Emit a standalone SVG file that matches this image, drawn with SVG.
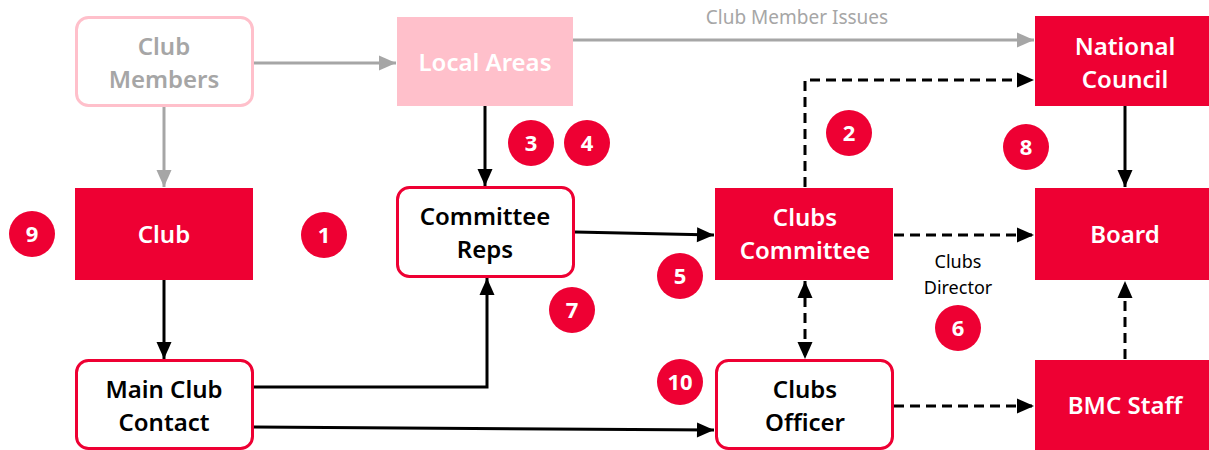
<svg xmlns="http://www.w3.org/2000/svg" width="1209" height="450" viewBox="0 0 1209 450">
<style>
.red{fill:#EE0033}
.pink{fill:#FFC0CB}
.ob{fill:#fff;stroke:#EE0033;stroke-width:3}
.op{fill:#fff;stroke:#FFC0CB;stroke-width:3}
.t{font-family:"Noto Sans","Open Sans",sans-serif;font-size:24px;font-weight:600;text-anchor:middle}
.w{fill:#fff}
.k{fill:#000}
.g{fill:#A6A6A6}
.lbl{font-family:"Noto Sans","Open Sans",sans-serif;font-size:17px;text-anchor:middle}
.num{font-family:"Noto Sans","Open Sans",sans-serif;font-size:22px;font-weight:700;fill:#fff;text-anchor:middle}
.cg{fill:none;stroke:#A6A6A6;stroke-width:3}
.ck{fill:none;stroke:#000;stroke-width:3}
.cd{fill:none;stroke:#000;stroke-width:3;stroke-dasharray:10 6}
</style>
<defs>
<marker id="ag" markerUnits="userSpaceOnUse" markerWidth="20" markerHeight="20" viewBox="0 0 20 20" refX="18" refY="10" orient="auto"><path d="M1,2.5 L18,10 L1,17.5 Z" fill="#A6A6A6"/></marker>
<marker id="ak" markerUnits="userSpaceOnUse" markerWidth="20" markerHeight="20" viewBox="0 0 20 20" refX="18" refY="10" orient="auto"><path d="M1,2.5 L18,10 L1,17.5 Z" fill="#000"/></marker>
<marker id="aks" markerUnits="userSpaceOnUse" markerWidth="20" markerHeight="20" viewBox="0 0 20 20" refX="18" refY="10" orient="auto-start-reverse"><path d="M1,2.5 L18,10 L1,17.5 Z" fill="#000"/></marker>
</defs>
<g id="connectors">
<line class="cg" x1="254" y1="63" x2="396" y2="63" marker-end="url(#ag)"/>
<line class="cg" x1="573" y1="40" x2="1034" y2="40" marker-end="url(#ag)"/>
<text class="lbl g" x="797" y="24" style="font-size:19px">Club Member Issues</text>
<line class="cg" x1="164" y1="107" x2="164" y2="187" marker-end="url(#ag)"/>
<line class="ck" x1="485" y1="106" x2="485" y2="186" marker-end="url(#ak)"/>
<line class="ck" x1="575" y1="232" x2="714" y2="235" marker-end="url(#ak)"/>
<path class="cd" d="M805,187 L805,80 L1034,80" marker-end="url(#ak)"/>
<line class="cd" x1="894" y1="235" x2="1034" y2="235" marker-end="url(#ak)"/>
<text class="lbl k" x="958" y="268" style="font-size:18px">Clubs</text>
<text class="lbl k" x="958" y="294" style="font-size:18px">Director</text>
<line class="ck" x1="1125" y1="106" x2="1125" y2="187" marker-end="url(#ak)"/>
<line class="cd" x1="1125" y1="359" x2="1125" y2="281" marker-end="url(#ak)"/>
<line class="cd" x1="805" y1="281" x2="805" y2="359" marker-start="url(#aks)" marker-end="url(#aks)"/>
<line class="cd" x1="894" y1="406" x2="1034" y2="406" marker-end="url(#ak)"/>
<line class="ck" x1="164" y1="280" x2="164" y2="359" marker-end="url(#ak)"/>
<path class="ck" d="M254,387 L487,387 L487,278" marker-end="url(#ak)"/>
<line class="ck" x1="254" y1="427" x2="714" y2="430" marker-end="url(#ak)"/>
</g>
<g id="club-members"><rect class="op" x="76.5" y="17.5" width="176" height="88" rx="12"/><text class="t g" x="164" y="55">Club</text><text class="t g" x="164" y="88">Members</text></g>
<g id="local-areas"><rect class="pink" x="397" y="17" width="176" height="89"/><text class="t w" x="485" y="71">Local Areas</text></g>
<g id="national-council"><rect class="red" x="1035" y="16" width="174" height="90"/><text class="t w" x="1125" y="55">National</text><text class="t w" x="1125" y="88">Council</text></g>
<g id="club"><rect class="red" x="75" y="188" width="178" height="92"/><text class="t w" x="164" y="243">Club</text></g>
<g id="committee-reps"><rect class="ob" x="397.5" y="187.5" width="176" height="89" rx="12"/><text class="t k" x="485" y="225">Committee</text><text class="t k" x="485" y="258">Reps</text></g>
<g id="clubs-committee"><rect class="red" x="715" y="188" width="178" height="92"/><text class="t w" x="805" y="226">Clubs</text><text class="t w" x="805" y="259">Committee</text></g>
<g id="board"><rect class="red" x="1035" y="188" width="174" height="92"/><text class="t w" x="1125" y="243">Board</text></g>
<g id="main-club-contact"><rect class="ob" x="76.5" y="360.5" width="176" height="88" rx="12"/><text class="t k" x="164" y="398">Main Club</text><text class="t k" x="164" y="431">Contact</text></g>
<g id="clubs-officer"><rect class="ob" x="716.5" y="360.5" width="176" height="88" rx="12"/><text class="t k" x="805" y="398">Clubs</text><text class="t k" x="805" y="431">Officer</text></g>
<g id="bmc-staff"><rect class="red" x="1035" y="360" width="174" height="90"/><text class="t w" x="1125" y="414">BMC Staff</text></g>
<g id="badges">
<g id="n9"><circle class="red" cx="32" cy="234" r="23"/><text class="num" x="32" y="242">9</text></g>
<g id="n1"><circle class="red" cx="324" cy="235" r="23"/><text class="num" x="324" y="243">1</text></g>
<g id="n3"><circle class="red" cx="531" cy="143" r="23"/><text class="num" x="531" y="151">3</text></g>
<g id="n4"><circle class="red" cx="587" cy="143" r="23"/><text class="num" x="587" y="151">4</text></g>
<g id="n2"><circle class="red" cx="849" cy="133" r="23"/><text class="num" x="849" y="141">2</text></g>
<g id="n8"><circle class="red" cx="1026" cy="147" r="23"/><text class="num" x="1026" y="155">8</text></g>
<g id="n5"><circle class="red" cx="680" cy="276" r="23"/><text class="num" x="680" y="284">5</text></g>
<g id="n7"><circle class="red" cx="572" cy="310" r="23"/><text class="num" x="572" y="318">7</text></g>
<g id="n6"><circle class="red" cx="958" cy="328" r="23"/><text class="num" x="958" y="336">6</text></g>
<g id="n10"><circle class="red" cx="680" cy="382" r="23"/><text class="num" x="680" y="390">10</text></g>
</g>
</svg>
